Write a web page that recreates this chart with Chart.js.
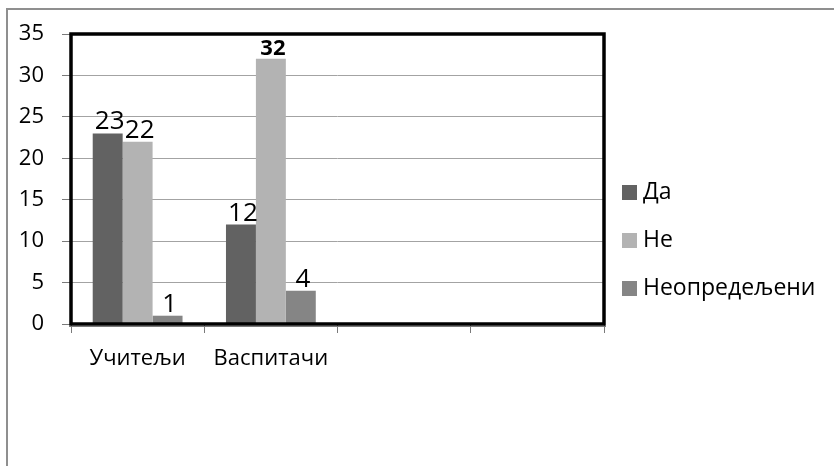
<!DOCTYPE html>
<html>
<head>
<meta charset="utf-8">
<script src="https://cdn.jsdelivr.net/npm/chart.js@4.4.1/dist/chart.umd.min.js"></script>
<style>
  html, body { margin: 0; padding: 0; background: #fff; }
  #wrap { width: 834px; height: 466px; }
</style>
</head>
<body>
<div id="wrap"><canvas id="chart" width="834" height="466"></canvas></div>
<script>
// categories (last two are empty slots in the original)
const categories = ["Учитељи", "Васпитачи", "", ""];
const seriesNames = ["Да", "Не", "Неопредељени"];
const valuesDa = [23, 12, null, null];
const valuesNe = [22, 32, null, null];
const valuesNeopr = [1, 4, null, null];
const yTicks = [0, 5, 10, 15, 20, 25, 30, 35];

const colors = ["#626262", "#b3b3b3", "#858585"];
const FONT = "'Open Sans', 'Noto Sans', sans-serif";

// outer frame of the picture
const framePlugin = {
  id: "frame",
  beforeDraw(chart) {
    const ctx = chart.ctx;
    ctx.save();
    ctx.strokeStyle = "#8f8f8f";
    ctx.lineWidth = 2;
    ctx.beginPath();
    ctx.moveTo(7, 466);
    ctx.lineTo(7, 9);
    ctx.lineTo(834, 9);
    ctx.stroke();
    ctx.restore();
  }
};

// thick black box around plot area + value labels
const boxAndLabels = {
  id: "boxAndLabels",
  afterDatasetsDraw(chart) {
    const ctx = chart.ctx;
    const a = chart.chartArea;
    ctx.save();
    ctx.strokeStyle = "#7a7a7a";
    ctx.lineWidth = 1;
    ctx.beginPath();
    ctx.moveTo(a.left - 2, a.bottom + 2.5);
    ctx.lineTo(a.right + 2, a.bottom + 2.5);
    ctx.stroke();
    ctx.strokeStyle = "#000";
    ctx.lineWidth = 3.5;
    ctx.strokeRect(a.left, a.top, a.right - a.left, a.bottom - a.top);

    ctx.fillStyle = "#000";
    ctx.textAlign = "center";
    ctx.textBaseline = "alphabetic";
    chart.data.datasets.forEach((ds, i) => {
      const meta = chart.getDatasetMeta(i);
      meta.data.forEach((bar, j) => {
        const v = ds.data[j];
        if (v == null) return;
        // the largest value was bold in the original
        const bold = v === 32;
        ctx.font = (bold ? "bold 22px " : "26px ") + FONT;
        ctx.fillText(String(v), bar.x + 2, bar.y - 4);
      });
    });
    ctx.restore();
  }
};

// legend on the right
const legendPlugin = {
  id: "sideLegend",
  afterDraw(chart) {
    const ctx = chart.ctx;
    ctx.save();
    ctx.font = "23px " + FONT;
    ctx.textBaseline = "middle";
    ctx.textAlign = "left";
    chart.data.datasets.forEach((ds, i) => {
      const cy = 192.5 + i * 48;
      ctx.fillStyle = ds.backgroundColor;
      ctx.fillRect(622, cy - 7.5, 15, 15);
      ctx.fillStyle = "#000";
      ctx.fillText(ds.label, 643, cy);
    });
    ctx.restore();
  }
};

new Chart(document.getElementById("chart"), {
  type: "bar",
  data: {
    labels: categories,
    datasets: [
      { label: seriesNames[0], data: valuesDa, backgroundColor: colors[0] },
      { label: seriesNames[1], data: valuesNe, backgroundColor: colors[1] },
      { label: seriesNames[2], data: valuesNeopr, backgroundColor: colors[2] }
    ]
  },
  options: {
    responsive: false,
    animation: false,
    devicePixelRatio: 1,
    layout: { padding: { top: 34, right: 230, left: 0, bottom: 0 } },
    categoryPercentage: 0.674,
    barPercentage: 1,
    plugins: {
      legend: { display: false },
      tooltip: { enabled: false }
    },
    scales: {
      x: {
        grid: {
          offset: true,
          drawOnChartArea: false,
          drawTicks: true,
          tickLength: 9,
          tickColor: "#7a7a7a"
        },
        border: { display: false },
        ticks: {
          color: "#000",
          font: { family: FONT, size: 22 },
          padding: 13,
          maxRotation: 0
        },
        afterFit(scale) { scale.height = 142; }
      },
      y: {
        min: 0,
        max: 35,
        afterBuildTicks(scale) { scale.ticks = yTicks.map(v => ({ value: v })); },
        grid: {
          color: "#a3a3a3",
          lineWidth: 1,
          tickLength: 9,
          tickColor: "#7a7a7a"
        },
        border: { display: false },
        ticks: {
          color: "#000",
          font: { family: FONT, size: 22 },
          padding: 18
        },
        afterFit(scale) { scale.width = 71; }
      }
    }
  },
  plugins: [framePlugin, boxAndLabels, legendPlugin]
});
</script>
</body>
</html>
